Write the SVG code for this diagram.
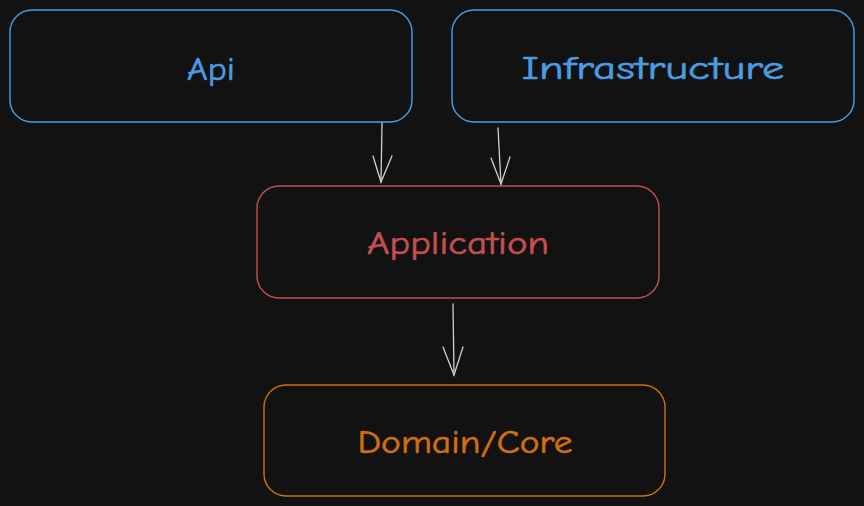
<svg xmlns="http://www.w3.org/2000/svg" width="864" height="506" viewBox="0 0 864 506">
<defs>
<style>
.box{fill:#121212;stroke-width:1.4}
.blue{stroke:#4a9de2}
.red{stroke:#c44f4f}
.orange{stroke:#d1700c}
.lbl{font-family:"Comic Neue","Liberation Sans",Lato,sans-serif;font-size:33px;text-anchor:middle;stroke-width:0.6}
.conn path{fill:none;stroke:#cfcfcf;stroke-width:1.3;stroke-linecap:round}
</style>
</defs>
<rect width="864" height="506" fill="#121212"/>
<g id="api">
<rect class="box blue" x="10" y="10" width="402" height="112" rx="22"/>
<text class="lbl" x="211" y="80" fill="#4a9de2" stroke="#4a9de2" textLength="48" lengthAdjust="spacingAndGlyphs">Api</text>
</g>
<g id="infrastructure">
<rect class="box blue" x="452" y="10" width="402" height="112" rx="22"/>
<text class="lbl" x="653" y="79" fill="#4a9de2" stroke="#4a9de2" textLength="263" lengthAdjust="spacingAndGlyphs">Infrastructure</text>
</g>
<g id="application">
<rect class="box red" x="257" y="186" width="402" height="112" rx="22"/>
<text class="lbl" x="458" y="254" fill="#c44f4f" stroke="#c44f4f" textLength="182" lengthAdjust="spacingAndGlyphs">Application</text>
</g>
<g id="domain">
<rect class="box orange" x="264" y="385" width="401" height="111" rx="22"/>
<text class="lbl" x="465" y="453" fill="#d1700c" stroke="#d1700c" textLength="215" lengthAdjust="spacingAndGlyphs">Domain/Core</text>
</g>
<g id="connectors" class="conn">
<path d="M382 123 L381 182"/>
<path d="M373 156 L381 182 L392 156"/>
<path d="M498 128 L501 184"/>
<path d="M491 158 L501 184 L510 157"/>
<path d="M453 304 L454 375"/>
<path d="M443 347 L454 375 L463 347"/>
</g>
</svg>
